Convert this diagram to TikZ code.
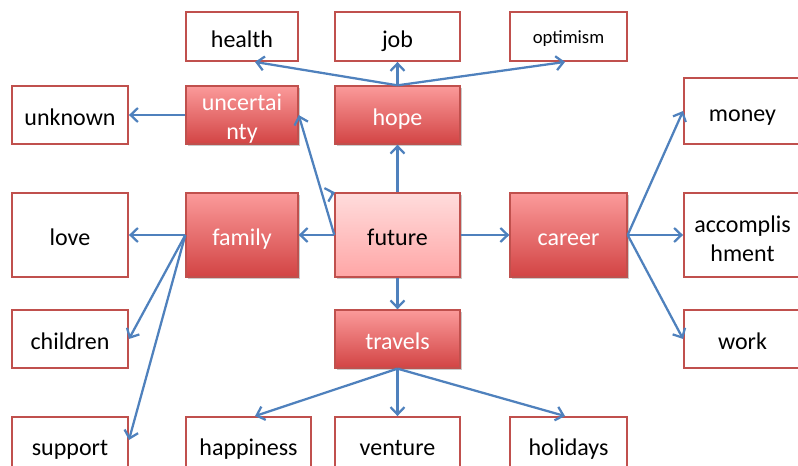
\documentclass[tikz,border=0pt]{standalone}
\usepackage{fontspec}
\setmainfont{Carlito}
\usetikzlibrary{arrows.meta,shadows,calc}
\definecolor{boxred}{HTML}{C0504D}
\definecolor{redtop}{HTML}{FB9A9A}
\definecolor{redbot}{HTML}{D24444}
\definecolor{pinktop}{HTML}{FFDCDC}
\definecolor{pinkbot}{HTML}{FFA6A6}
\definecolor{connblue}{HTML}{4F81BD}
\tikzset{
  px/.style={x=0.75pt,y=-0.75pt},
  oneline/.style={text height=16pt,text depth=0pt},
  lowline/.style={text height=14pt,text depth=0pt},
  plainbox/.style={draw=boxred,line width=1.4pt,fill=white,inner sep=0pt,align=center,
    font=\fontsize{18}{22}\selectfont,text=black},
  redbox/.style={draw=boxred,line width=1pt,top color=redtop,bottom color=redbot,inner sep=0pt,
    align=center,font=\fontsize{18}{21.5}\selectfont,text=white,
    drop shadow={shadow xshift=1.2pt,shadow yshift=-1.2pt,opacity=0.35,fill=black!60}},
  pinkbox/.style={draw=boxred,line width=1pt,top color=pinktop,bottom color=pinkbot,inner sep=0pt,
    align=center,font=\fontsize{18}{21.5}\selectfont,text=black,
    drop shadow={shadow xshift=1.2pt,shadow yshift=-1.2pt,opacity=0.35,fill=black!60}},
  twoline/.style={align=center,inner sep=0pt,yshift=-3pt,font=\fontsize{18}{21.5}\selectfont},
  conn/.style={draw=connblue,line width=1.7pt,-{Straight Barb[length=5.5pt,width=10.5pt,line width=1.7pt]}},
}
\begin{document}
\begin{tikzpicture}[px]
\useasboundingbox (0,0) rectangle (798,466);
\begin{scope}
\clip (0,0) rectangle (798,466);
% top row
\node[plainbox,oneline,minimum width=84pt,minimum height=36.75pt] (health) at (242,36.5) {health};
\node[plainbox,oneline,minimum width=93.75pt,minimum height=36.75pt] (job) at (397.5,36.5) {job};
\node[plainbox,minimum width=87.75pt,minimum height=36.75pt,font=\fontsize{14}{16}\selectfont,text height=10.5pt,text depth=0pt] (optimism) at (568.5,36.5) {optimism};
% second row
\node[plainbox,oneline,minimum width=87pt,minimum height=43.5pt] (unknown) at (70,115) {unknown};
\node[redbox,minimum width=84pt,minimum height=43.5pt,
  label={[twoline,text=white]center:{uncertai\\nty}}] (uncertainty) at (242,115) {};
\node[redbox,oneline,minimum width=93.75pt,minimum height=43.5pt] (hope) at (397.5,115) {hope};
\node[plainbox,oneline,minimum width=87.75pt,minimum height=49.5pt] (money) at (742.5,111) {money};
% middle row
\node[plainbox,oneline,minimum width=87pt,minimum height=63pt] (love) at (70,235) {love};
\node[redbox,oneline,minimum width=84pt,minimum height=63pt] (family) at (242,235) {family};
\node[pinkbox,oneline,minimum width=93.75pt,minimum height=63pt] (future) at (397.5,235) {future};
\node[redbox,oneline,minimum width=87.75pt,minimum height=63pt] (career) at (568.5,235) {career};
\node[plainbox,minimum width=87.75pt,minimum height=63pt,
  label={[twoline,text=black]center:{accomplis\\hment}}] (accomp) at (742.5,235) {};
% fourth row
\node[plainbox,oneline,minimum width=87pt,minimum height=43.5pt] (children) at (70,339) {children};
\node[redbox,oneline,minimum width=93.75pt,minimum height=43.5pt] (travels) at (397.5,339) {travels};
\node[plainbox,oneline,minimum width=87.75pt,minimum height=43.5pt] (work) at (742.5,339) {work};
% bottom row
\node[plainbox,lowline,minimum width=87pt,minimum height=43.5pt] (support) at (70,446) {support};
\node[plainbox,lowline,minimum width=93.75pt,minimum height=43.5pt] (happiness) at (248.5,446) {happiness};
\node[plainbox,lowline,minimum width=93.75pt,minimum height=43.5pt] (venture) at (397.5,446) {venture};
\node[plainbox,lowline,minimum width=87.75pt,minimum height=43.5pt] (holidays) at (568.5,446) {holidays};
\end{scope}
\coordinate (stub) at (331,193.5);
% connectors
\draw[conn] (hope.north) -- ([xshift=9.75pt]health.south);
\draw[conn] (hope.north) -- (job.south);
\draw[conn] (hope.north) -- ([xshift=-2.6pt]optimism.south);
\draw[conn] (future.north) -- (hope.south);
\draw[conn] (uncertainty.west) -- (unknown.east);
\draw[conn] (future.west) -- (uncertainty.east);
\draw[conn] (stub) -- ([xshift=0.5pt]future.north west);
\draw[conn] (future.west) -- (family.east);
\draw[conn] (family.west) -- (love.east);
\draw[conn] (family.west) -- (children.east);
\draw[conn] (family.west) -- ([yshift=4.5pt]support.east);
\draw[conn] (future.east) -- (career.west);
\draw[conn] (career.east) -- (money.west);
\draw[conn] (career.east) -- (accomp.west);
\draw[conn] (career.east) -- (work.west);
\draw[conn] (future.south) -- (travels.north);
\draw[conn] (travels.south) -- ([xshift=4.9pt]happiness.north);
\draw[conn] (travels.south) -- (venture.north);
\draw[conn] (travels.south) -- ([xshift=-2.6pt]holidays.north);
\end{tikzpicture}
\end{document}
